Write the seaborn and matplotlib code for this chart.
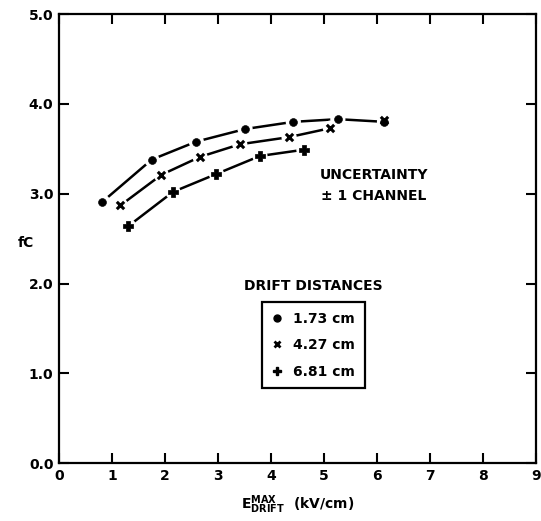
import matplotlib
matplotlib.use("Agg")
import matplotlib.pyplot as plt
from matplotlib.lines import Line2D
import seaborn as sns
import pandas as pd

sns.set_theme(style="white")
plt.rcParams['font.family'] = ['DejaVu Sans']
plt.rcParams['font.weight'] = 'bold'
plt.rcParams['text.color'] = 'black'
plt.rcParams['xtick.color'] = 'black'
plt.rcParams['ytick.color'] = 'black'
plt.rcParams['axes.labelcolor'] = 'black'

# drift field (kV/cm) vs fC, one curve per drift distance
x_173 = [0.82, 1.75, 2.59, 3.51, 4.42, 5.26, 6.14]
y_173 = [2.91, 3.38, 3.58, 3.72, 3.80, 3.83, 3.80]
x_427 = [1.16, 1.93, 2.66, 3.41, 4.34, 5.12]
y_427 = [2.87, 3.21, 3.41, 3.55, 3.63, 3.73]
x_427_extra = [6.14]
y_427_extra = [3.82]
x_681 = [1.31, 2.15, 2.97, 3.79, 4.62]
y_681 = [2.64, 3.02, 3.22, 3.42, 3.49]

labels = ["1.73 cm", "4.27 cm", "6.81 cm"]
markers = ["o", "x", "P"]
x_ticks = [0, 1, 2, 3, 4, 5, 6, 7, 8, 9]
y_ticks = [0.0, 1.0, 2.0, 3.0, 4.0, 5.0]

fig = plt.figure(figsize=(5.41, 5.21), dpi=100)
ax = fig.add_axes([0.109, 0.111, 0.882, 0.862])

series = [(x_173, y_173), (x_427, y_427), (x_681, y_681)]
for (xs, ys), mk in zip(series, markers):
    df = pd.DataFrame({"x": xs, "y": ys})
    sns.lineplot(data=df, x="x", y="y", ax=ax, color="black", linewidth=1.8,
                 zorder=2, sort=False)
    # white halo to break the line around each marker
    sns.scatterplot(data=df, x="x", y="y", ax=ax, color="white", s=120,
                    marker="o", edgecolor="none", zorder=3)

marker_kw = {
    "o": dict(s=32, marker="o", color="black", edgecolor="black"),
    "x": dict(s=28, marker="x", color="black", linewidth=2.2),
    "P": dict(s=42, marker="P", color="black", edgecolor="black"),
}
for (xs, ys), mk in zip(series, markers):
    df = pd.DataFrame({"x": xs, "y": ys})
    sns.scatterplot(data=df, x="x", y="y", ax=ax, zorder=4, **marker_kw[mk])
sns.scatterplot(x=x_427_extra, y=y_427_extra, ax=ax, zorder=5, **marker_kw["x"])

ax.set_xlim(0, 9)
ax.set_ylim(0, 5)
ax.set_xticks(x_ticks)
ax.set_yticks(y_ticks)
ax.set_xticklabels([str(t) for t in x_ticks], fontsize=10, fontweight='bold')
ax.set_yticklabels([f"{t:.1f}" for t in y_ticks], fontsize=10, fontweight='bold')
ax.tick_params(axis='both', direction='in', length=7, width=1.5, color='black',
               labelcolor='black', top=True, right=True, bottom=True, left=True,
               pad=4)
for sp in ax.spines.values():
    sp.set_color("black")
    sp.set_linewidth(1.6)

ax.set_xlabel(r"$\mathbf{E}_{\mathbf{DRIFT}}^{\mathbf{MAX}}$  (kV/cm)",
              fontsize=10, fontweight='bold', labelpad=8)
ax.set_ylabel("fC", rotation=0, fontsize=10, fontweight='bold')
ax.yaxis.set_label_coords(-0.07, 0.474)

ax.text(0.66, 0.641, "UNCERTAINTY", transform=ax.transAxes, ha="center",
        va="center", fontsize=10, fontweight='bold')
ax.text(0.66, 0.595, "± 1 CHANNEL", transform=ax.transAxes, ha="center",
        va="center", fontsize=10, fontweight='bold')
ax.text(0.533, 0.394, "DRIFT DISTANCES", transform=ax.transAxes, ha="center",
        va="center", fontsize=10, fontweight='bold')

handles = [Line2D([], [], linestyle="none", marker="o", color="black", markersize=5),
           Line2D([], [], linestyle="none", marker="x", color="black", markersize=5,
                  markeredgewidth=2),
           Line2D([], [], linestyle="none", marker="P", color="black", markersize=6)]
leg = ax.legend(handles, labels, loc="lower left", bbox_to_anchor=(0.41, 0.151),
                frameon=True, fancybox=False, fontsize=10, handlelength=0.8,
                handletextpad=0.8, labelspacing=0.9, borderpad=0.7,
                labelcolor="black")
leg.get_frame().set_edgecolor("black")
leg.get_frame().set_linewidth(1.6)
leg.get_frame().set_alpha(1)
for t in leg.get_texts():
    t.set_fontweight('bold')

fig.savefig("out.png", dpi=100)
